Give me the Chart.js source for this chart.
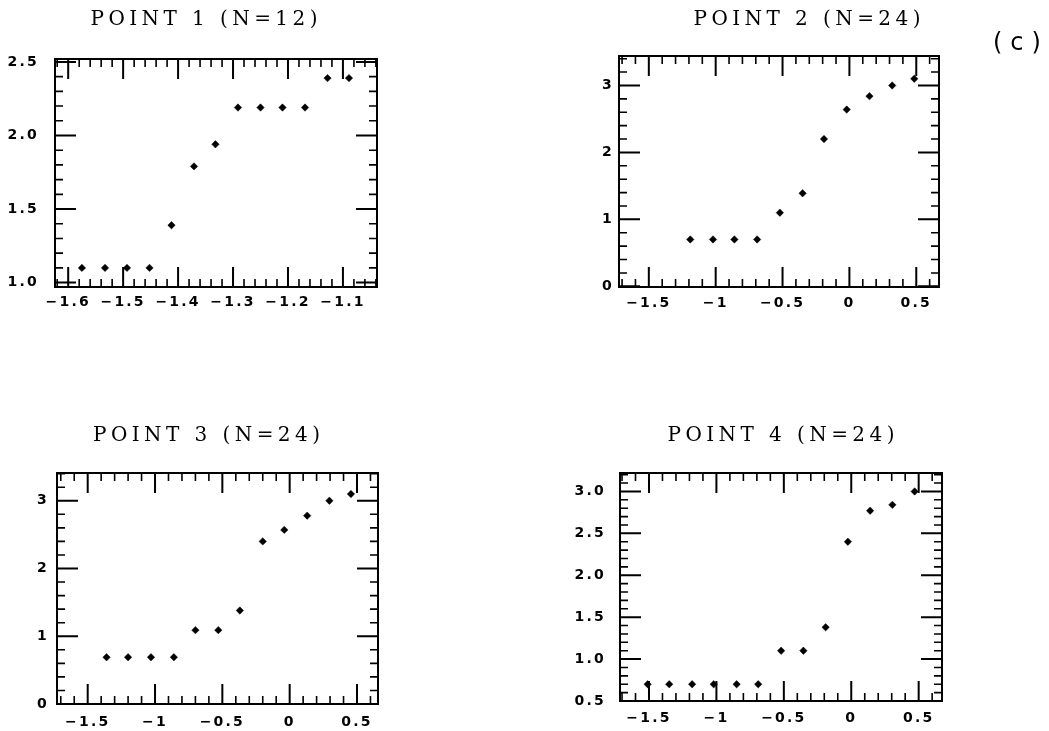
<!DOCTYPE html>
<html><head><meta charset="utf-8">
<script src="https://cdn.jsdelivr.net/npm/chart.js@4.4.1/dist/chart.umd.min.js"></script>
<style>
html,body{margin:0;padding:0;background:#fff;overflow:hidden;width:1049px;height:731px;position:relative;}
canvas{position:absolute;}
#tag{position:absolute;left:993px;top:27px;font-family:"DejaVu Sans";font-size:24px;letter-spacing:8px;color:#000;line-height:30px;}
</style></head><body>
<canvas id="c1" width="408" height="330" style="left:0px;top:0px"></canvas>
<canvas id="c2" width="454" height="330" style="left:580px;top:0px"></canvas>
<canvas id="c3" width="413" height="331" style="left:0px;top:400px"></canvas>
<canvas id="c4" width="442" height="331" style="left:560px;top:400px"></canvas>
<div id="tag">(c)</div>
<script>
// ---- data ----
const p1Title = 'POINT 1 (N=12)';
const p1X = [-1.575, -1.533, -1.493, -1.452, -1.412, -1.371, -1.332, -1.291, -1.250, -1.210, -1.169, -1.128, -1.089];
const p1Y = [1.10, 1.10, 1.10, 1.10, 1.39, 1.79, 1.94, 2.19, 2.19, 2.19, 2.19, 2.39, 2.39];
const p1XTicks = [-1.6, -1.5, -1.4, -1.3, -1.2, -1.1];
const p1XLabels = ['\u22121.6', '\u22121.5', '\u22121.4', '\u22121.3', '\u22121.2', '\u22121.1'];
const p1YTicks = [1.0, 1.5, 2.0, 2.5];
const p1YLabels = ['1.0', '1.5', '2.0', '2.5'];

const p2Title = 'POINT 2 (N=24)';
const p2X = [-1.19, -1.02, -0.86, -0.69, -0.52, -0.35, -0.19, -0.02, 0.15, 0.32, 0.485];
const p2Y = [0.70, 0.70, 0.70, 0.70, 1.10, 1.39, 2.20, 2.64, 2.84, 3.00, 3.10];

const p3Title = 'POINT 3 (N=24)';
const p3X = [-1.36, -1.20, -1.03, -0.86, -0.70, -0.53, -0.37, -0.20, -0.04, 0.13, 0.295, 0.455];
const p3Y = [0.69, 0.69, 0.69, 0.69, 1.09, 1.09, 1.38, 2.40, 2.57, 2.78, 3.00, 3.10];

const p4Title = 'POINT 4 (N=24)';
const p4X = [-1.51, -1.35, -1.18, -1.02, -0.85, -0.69, -0.52, -0.355, -0.19, -0.025, 0.14, 0.305, 0.47];
const p4Y = [0.70, 0.70, 0.70, 0.70, 0.70, 0.70, 1.10, 1.10, 1.38, 2.40, 2.77, 2.84, 3.00];

const wideXTicks = [-1.5, -1, -0.5, 0, 0.5];
const wideXLabels = ['\u22121.5', '\u22121', '\u22120.5', '0', '0.5'];
const intYTicks = [0, 1, 2, 3];
const intYLabels = ['0', '1', '2', '3'];
const p4YTicks = [0.5, 1.0, 1.5, 2.0, 2.5, 3.0];
const p4YLabels = ['0.5', '1.0', '1.5', '2.0', '2.5', '3.0'];

const TITLE_WIDTH = 227;   // visual width of the titles in the reference
const TICK_SPACING = 2.2;  // letter spacing of tick labels

// ---- chart builder ----
function makeChart(id, cfg) {
  const canvas = document.getElementById(id);
  const W = canvas.width, H = canvas.height;
  const cL = parseFloat(canvas.style.left), cT = parseFloat(canvas.style.top);
  const f = cfg.frame;
  const wy = f.L - cL;
  const wr = cL + W - f.R;
  const hx = cT + H - f.B;
  const titleH = f.T - cT;
  const tcy = cfg.titleCy - cT;
  const padTop = tcy - 12;
  const padBottom = titleH - padTop - 24;
  const tickFont = {family: "'DejaVu Sans', sans-serif", weight: 'bold', size: 14};
  const titleFontStr = "normal 20px 'DejaVu Serif', serif";

  const frameTicks = {
    id: 'frameTicks_' + id,
    beforeDraw(chart) {
      chart.ctx.letterSpacing = TICK_SPACING + 'px';
      const tb = chart.titleBlock;
      if (tb && !tb.__patched) {
        const d = tb.draw;
        tb.draw = function (a) {
          const c = chart.ctx; const prev = c.letterSpacing;
          c.save();
          c.letterSpacing = '0px';
          c.font = titleFontStr;
          const natural = c.measureText(cfg.title).width;
          c.restore();
          const s = Math.max(0, (TITLE_WIDTH - natural) / (cfg.title.length - 1));
          c.letterSpacing = s.toFixed(2) + 'px';
          c.save();
          c.translate(s / 2, 0); // compensate trailing spacing so the text stays centred
          d.call(tb, a);
          c.restore();
          c.letterSpacing = prev;
        };
        tb.__patched = true;
      }
    },
    beforeDatasetsDraw(chart) {
      const ctx = chart.ctx, a = chart.chartArea, xs = chart.scales.x, ys = chart.scales.y;
      ctx.save();
      ctx.letterSpacing = '0px';
      ctx.strokeStyle = '#000';
      ctx.lineCap = 'butt';
      const isMajor = (arr, v) => arr.some(m => Math.abs(m - v) < 1e-6);
      function minors(min, max, step) {
        const out = [];
        for (let k = Math.ceil(min / step - 1e-9); k <= Math.floor(max / step + 1e-9); k++) out.push(k * step);
        return out;
      }
      minors(xs.min, xs.max, cfg.xMinor).forEach(v => {
        const major = isMajor(cfg.xTicks, v);
        const len = major ? 20 : 8;
        ctx.lineWidth = major ? 2 : 1.6;
        const px = xs.getPixelForValue(v);
        ctx.beginPath();
        ctx.moveTo(px, a.bottom); ctx.lineTo(px, a.bottom - len);
        ctx.moveTo(px, a.top); ctx.lineTo(px, a.top + len);
        ctx.stroke();
      });
      minors(ys.min, ys.max, cfg.yMinor).forEach(v => {
        const major = isMajor(cfg.yTicks, v);
        const len = major ? 21 : 8;
        ctx.lineWidth = major ? 2 : 1.6;
        const py = ys.getPixelForValue(v);
        ctx.beginPath();
        ctx.moveTo(a.left, py); ctx.lineTo(a.left + len, py);
        ctx.moveTo(a.right, py); ctx.lineTo(a.right - len, py);
        ctx.stroke();
      });
      ctx.lineWidth = 2;
      ctx.strokeRect(a.left, a.top, a.right - a.left, a.bottom - a.top);
      ctx.restore();
    }
  };

  return new Chart(canvas, {
    type: 'scatter',
    data: {
      datasets: [{
        data: cfg.xs.map((x, i) => ({x: x, y: cfg.ys[i]})),
        pointStyle: 'rectRot',
        pointRadius: 3.7,
        pointBackgroundColor: '#000',
        pointBorderColor: '#000',
        pointBorderWidth: 0.5,
        showLine: false
      }]
    },
    options: {
      responsive: false,
      animation: false,
      events: [],
      layout: {padding: {left: 0, right: 0, top: 0, bottom: 0}},
      plugins: {
        legend: {display: false},
        tooltip: {enabled: false},
        title: {
          display: true,
          text: cfg.title,
          color: '#000',
          fullSize: true,
          font: {family: "'DejaVu Serif', serif", size: 20, weight: 'normal', lineHeight: '24px'},
          padding: {top: padTop, bottom: padBottom}
        }
      },
      scales: {
        x: {
          type: 'linear', position: 'bottom',
          min: cfg.xRange[0], max: cfg.xRange[1],
          afterBuildTicks: s => { s.ticks = cfg.xTicks.map(v => ({value: v})); },
          afterFit: s => { s.height = hx; },
          grid: {display: false, drawTicks: false},
          border: {display: false},
          ticks: {
            autoSkip: false, maxRotation: 0, minRotation: 0,
            padding: cfg.xPad, color: '#000', font: tickFont,
            callback: (v, i) => cfg.xLabels[i]
          }
        },
        y: {
          type: 'linear', position: 'left',
          min: cfg.yRange[0], max: cfg.yRange[1],
          afterBuildTicks: s => { s.ticks = cfg.yTicks.map(v => ({value: v})); },
          afterFit: s => { s.width = wy; },
          grid: {display: false, drawTicks: false},
          border: {display: false},
          ticks: {
            autoSkip: false, padding: cfg.yPad, color: '#000', font: tickFont,
            callback: (v, i) => cfg.yLabels[i]
          }
        },
        yr: {
          type: 'linear', position: 'right',
          min: cfg.yRange[0], max: cfg.yRange[1],
          afterFit: s => { s.width = wr; },
          grid: {display: false, drawTicks: false},
          border: {display: false},
          ticks: {display: false}
        }
      }
    },
    plugins: [frameTicks]
  });
}

makeChart('c1', {
  title: p1Title, xs: p1X, ys: p1Y,
  xRange: [-1.624, -1.038], yRange: [0.97, 2.52],
  xTicks: p1XTicks, xLabels: p1XLabels, yTicks: p1YTicks, yLabels: p1YLabels,
  xMinor: 0.02, yMinor: 0.1,
  frame: {L: 55, R: 377, T: 59, B: 287}, titleCy: 19.3, xPad: 7, yPad: 16
});
makeChart('c2', {
  title: p2Title, xs: p2X, ys: p2Y,
  xRange: [-1.723, 0.67], yRange: [-0.01, 3.44],
  xTicks: wideXTicks, xLabels: wideXLabels, yTicks: intYTicks, yLabels: intYLabels,
  xMinor: 0.1, yMinor: 0.2,
  frame: {L: 619, R: 939, T: 56, B: 287}, titleCy: 19.3, xPad: 8, yPad: 5
});
makeChart('c3', {
  title: p3Title, xs: p3X, ys: p3Y,
  xRange: [-1.728, 0.656], yRange: [0, 3.41],
  xTicks: wideXTicks, xLabels: wideXLabels, yTicks: intYTicks, yLabels: intYLabels,
  xMinor: 0.1, yMinor: 0.2,
  frame: {L: 57, R: 378, T: 473, B: 704}, titleCy: 435.8, xPad: 10, yPad: 8
});
makeChart('c4', {
  title: p4Title, xs: p4X, ys: p4Y,
  xRange: [-1.715, 0.673], yRange: [0.5, 3.22],
  xTicks: wideXTicks, xLabels: wideXLabels, yTicks: p4YTicks, yLabels: p4YLabels,
  xMinor: 0.1, yMinor: 0.1,
  frame: {L: 620, R: 942, T: 473, B: 701}, titleCy: 435.8, xPad: 9, yPad: 14
});
</script>
</body></html>
